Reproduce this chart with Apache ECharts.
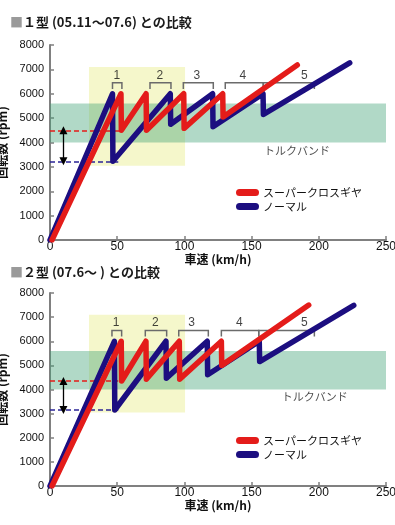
<!DOCTYPE html>
<html><head><meta charset="utf-8">
<script src="https://cdn.jsdelivr.net/npm/echarts@6/dist/echarts.min.js"></script>
<style>html,body{margin:0;padding:0;background:#fff}#c{width:395px;height:525px}</style>
</head><body><div id="c"></div>
<script>
// ---- texts ----
const seriesNames = ['スーパークロスギヤ', 'ノーマル'];
const titles = ['１型 (05.11～07.6) との比較', '２型 (07.6～ ) との比較'];
const xName = '車速 (km/h)';
const yName = '回転数 (rpm)';
const torqueLabel = 'トルクバンド';
const bracketLabels = ['1', '2', '3', '4', '5'];
// ---- axes ----
const xMin = 0, xMax = 250, xStep = 50;
const yMin = 0, yMax = 8000, yStep = 1000;
// ---- bands (km/h, rpm) ----
const torqueBandRpm = [4000, 5600];
const focusSpeed = [29, 100.5];
const focusRpm = [3050, 7100];

// ---- chart 1 (1型) ----
const c1NormalSpeed = [0, 46.5, 46.8, 89.5, 89.8, 121, 121.3, 158.5, 158.8, 223];
const c1NormalRpm   = [0, 6000, 3230, 6000, 4750, 6000, 4650, 6000, 5150, 7270];
const c1CrossSpeed  = [1.5, 52.8, 53.1, 71.5, 71.8, 99.5, 99.8, 128.5, 128.8, 184];
const c1CrossRpm    = [0, 6000, 4500, 6000, 4500, 6000, 4580, 6000, 5050, 7180];
const c1BracketFrom = [46.5, 74.4, 99.2, 130.4, 158.7];
const c1BracketTo   = [53.5, 90, 121.5, 158.7, 196.7];
const c1BracketLabelX = [49.8, 81.8, 109.2, 143.4, 189.2];
const c1DashCross = [51.6, 4500];   // end speed, rpm
const c1DashNormal = [50.8, 3230];
const c1TorqueLabelPos = [183.8, 3640];

// ---- chart 2 (2型) ----
const c2NormalSpeed = [0, 47.9, 48.2, 86.3, 86.6, 117, 117.3, 155.7, 156, 226];
const c2NormalRpm   = [0, 6000, 3150, 6000, 4470, 6000, 4610, 6000, 5160, 7490];
const c2CrossSpeed  = [1.5, 53, 53.3, 71.4, 71.7, 96.2, 96.5, 127.5, 127.8, 192.5];
const c2CrossRpm    = [0, 6000, 4350, 6000, 4430, 6000, 4430, 6000, 5000, 7500];
const c2BracketFrom = [46.1, 70.9, 95.8, 127.5, 155.3];
const c2BracketTo   = [53.3, 86.8, 117.8, 155.3, 196.7];
const c2BracketLabelX = [49.1, 78.3, 105.4, 140.8, 189.2];
const c2DashCross = [50.8, 4350];
const c2DashNormal = [50.8, 3150];
const c2TorqueLabelPos = [197, 3690];

const bracketLow = 6200, bracketHigh = 6450, bracketLabelRpm = 6760;
const arrowSpeed = 10;

const RED = '#e41c1a', BLUE = '#1c0e80';
const FONT = "'Liberation Sans', 'Noto Sans CJK JP', sans-serif";
const JFONT = "'Noto Sans CJK JP', sans-serif";

const zip = (a, b) => a.map((v, i) => [v, b[i]]);

function chartSeries(ci, d) {
  const ax = { xAxisIndex: ci, yAxisIndex: ci };
  const s = [];
  s.push(Object.assign({
    type: 'line', data: [], silent: true, z: 1,
    markArea: {
      silent: true,
      data: [
        [{ coord: [focusSpeed[0], focusRpm[0]], itemStyle: { color: '#f5f7cb' } }, { coord: [focusSpeed[1], focusRpm[1]] }],
        [{ coord: [xMin, torqueBandRpm[0]], itemStyle: { color: 'rgba(60,160,115,0.4)' } }, { coord: [xMax, torqueBandRpm[1]] }]
      ]
    }
  }, ax));
  // brackets
  s.push(Object.assign({
    type: 'lines', coordinateSystem: 'cartesian2d', polyline: true, silent: true, z: 2,
    lineStyle: { color: '#6b6b6b', width: 1.5, opacity: 1 },
    data: d.bf.map((f, i) => ({ coords: [[f, bracketLow], [f, bracketHigh], [d.bt[i], bracketHigh], [d.bt[i], bracketLow]] }))
  }, ax));
  // dashed reference lines
  s.push(Object.assign({
    type: 'lines', coordinateSystem: 'cartesian2d', silent: true, z: 2,
    lineStyle: { width: 1.5, type: [5, 3], opacity: 1 },
    data: [
      { coords: [[xMin, d.dc[1]], [d.dc[0], d.dc[1]]], lineStyle: { color: RED } },
      { coords: [[xMin, d.dn[1]], [d.dn[0], d.dn[1]]], lineStyle: { color: '#2b2496' } }
    ]
  }, ax));
  // double arrow
  s.push(Object.assign({
    type: 'lines', coordinateSystem: 'cartesian2d', silent: true, z: 2,
    symbol: ['triangle', 'triangle'], symbolSize: [8, 8],
    lineStyle: { color: '#000', width: 1.3, opacity: 1 },
    data: [{ coords: [[arrowSpeed, d.dc[1]], [arrowSpeed, d.dn[1]]] }]
  }, ax));
  // lines
  s.push(Object.assign({
    type: 'line', name: seriesNames[1], data: zip(d.ns, d.nr), z: 3,
    showSymbol: false, symbol: 'none', silent: true,
    lineStyle: { color: BLUE, width: 5.5, cap: 'round', join: 'round' }, itemStyle: { color: BLUE }
  }, ax));
  s.push(Object.assign({
    type: 'line', name: seriesNames[0], data: zip(d.cs, d.cr), z: 4,
    showSymbol: false, symbol: 'none', silent: true,
    lineStyle: { color: RED, width: 5.5, cap: 'round', join: 'round' }, itemStyle: { color: RED }
  }, ax));
  // labels
  s.push(Object.assign({
    type: 'scatter', silent: true, z: 5, symbolSize: 1, itemStyle: { color: 'rgba(0,0,0,0)' },
    label: { show: true, position: 'inside', formatter: '{b}', color: '#111', fontSize: 12, fontFamily: FONT },
    data: d.blx.map((x, i) => ({ name: bracketLabels[i], value: [x, bracketLabelRpm] }))
  }, ax));
  s.push(Object.assign({
    type: 'scatter', silent: true, z: 5, symbolSize: 1, itemStyle: { color: 'rgba(0,0,0,0)' },
    label: { show: true, position: 'inside', formatter: '{b}', color: '#222', fontSize: 11, fontFamily: JFONT },
    data: [{ name: torqueLabel, value: d.tl }]
  }, ax));
  return s;
}

const d1 = { ns: c1NormalSpeed, nr: c1NormalRpm, cs: c1CrossSpeed, cr: c1CrossRpm, bf: c1BracketFrom, bt: c1BracketTo, blx: c1BracketLabelX, dc: c1DashCross, dn: c1DashNormal, tl: c1TorqueLabelPos };
const d2 = { ns: c2NormalSpeed, nr: c2NormalRpm, cs: c2CrossSpeed, cr: c2CrossRpm, bf: c2BracketFrom, bt: c2BracketTo, blx: c2BracketLabelX, dc: c2DashCross, dn: c2DashNormal, tl: c2TorqueLabelPos };

const plain = v => String(v);

function xAxisCfg(i) {
  return {
    gridIndex: i, type: 'value', min: xMin, max: xMax, interval: xStep,
    name: xName, nameLocation: 'middle', nameGap: 12,
    nameTextStyle: { fontFamily: JFONT, fontWeight: 'bold', fontSize: 12, color: '#111' },
    axisLine: { show: true, lineStyle: { color: '#808080', width: 2 } },
    axisTick: { show: true, inside: true, length: 4, lineStyle: { color: '#808080', width: 1.5 } },
    axisLabel: { fontFamily: FONT, fontSize: 12, color: '#111', margin: 1, formatter: plain },
    splitLine: { show: false }
  };
}
function yAxisCfg(i) {
  return {
    gridIndex: i, type: 'value', min: yMin, max: yMax, interval: yStep,
    name: yName, nameLocation: 'middle', nameGap: 36, nameRotate: 90,
    nameTextStyle: { fontFamily: JFONT, fontWeight: 'bold', fontSize: 12, color: '#111' },
    axisLine: { show: true, lineStyle: { color: '#808080', width: 2 } },
    axisTick: { show: true, inside: true, length: 4, lineStyle: { color: '#808080', width: 1.5 } },
    axisLabel: { fontFamily: FONT, fontSize: 11, color: '#111', margin: 6, formatter: plain },
    splitLine: { show: false }
  };
}
function legendCfg(top) {
  return {
    data: seriesNames, orient: 'vertical', left: 231, top: top,
    itemWidth: 23, itemHeight: 7, itemGap: 1, selectedMode: false,
    icon: 'path://M3.5,0 L19.5,0 A3.5,3.5 0 0 1 19.5,7 L3.5,7 A3.5,3.5 0 0 1 3.5,0 Z',
    textStyle: { fontFamily: JFONT, fontSize: 11, color: '#111', lineHeight: 13, padding: [0, 0, 0, -1] }
  };
}
function titleCfg(i, top) {
  return {
    left: 10, top: top, padding: 0,
    text: '{sq|■}{t|' + titles[i] + '}',
    textStyle: {
      rich: {
        sq: { color: '#9a9a9a', fontSize: 13, fontFamily: JFONT, fontWeight: 'bold' },
        t: { color: '#1a1a1a', fontSize: 13, fontFamily: JFONT, fontWeight: 'bold' }
      }
    }
  };
}

const chart = echarts.init(document.getElementById('c'), null, { renderer: 'canvas' });
chart.setOption({
  animation: false,
  backgroundColor: '#fff',
  title: [titleCfg(0, 16), titleCfg(1, 266)],
  legend: [legendCfg(181), legendCfg(429)],
  grid: [
    { left: 50, top: 45, width: 336, height: 195, containLabel: false, outerBoundsMode: 'none' },
    { left: 50, top: 293, width: 336, height: 193, containLabel: false, outerBoundsMode: 'none' }
  ],
  xAxis: [xAxisCfg(0), xAxisCfg(1)],
  yAxis: [yAxisCfg(0), yAxisCfg(1)],
  series: chartSeries(0, d1).concat(chartSeries(1, d2))
});
</script></body></html>
